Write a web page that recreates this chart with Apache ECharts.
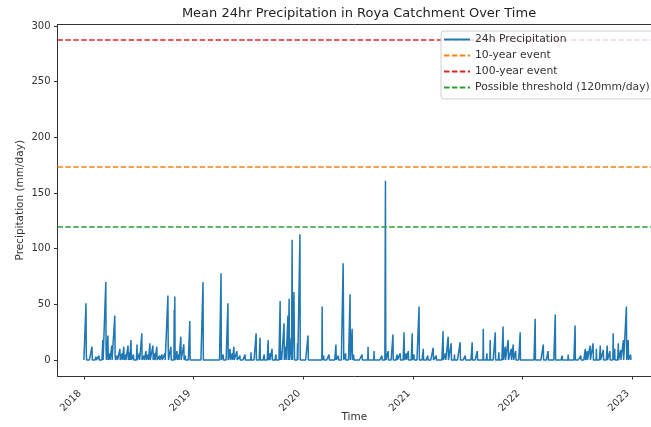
<!DOCTYPE html>
<html>
<head>
<meta charset="utf-8">
<script src="https://cdn.jsdelivr.net/npm/echarts@6/dist/echarts.min.js"></script>
<style>html,body{margin:0;padding:0;background:#fff}#c{width:651px;height:427px}</style>
</head>
<body>
<div id="c"></div>
<script>
// ---- data ----
const titleText = 'Mean 24hr Precipitation in Roya Catchment Over Time';
const startDate = '2018-01-01';
const endDate = '2022-12-31';
// days with notable precipitation (mm/day); other days ~0
const eventDates = [
 '2018-01-08','2018-01-09','2018-01-28','2018-02-10','2018-02-20','2018-03-05','2018-03-15','2018-03-16','2018-03-22','2018-03-28',
 '2018-04-04','2018-04-14','2018-04-15','2018-04-22','2018-05-01','2018-05-08','2018-05-14','2018-05-20','2018-05-28','2018-06-02',
 '2018-06-07','2018-06-15','2018-06-27','2018-07-05','2018-07-13','2018-07-20','2018-07-27','2018-08-03','2018-08-09','2018-08-19',
 '2018-08-25','2018-09-01','2018-09-10','2018-09-18','2018-09-28','2018-10-08','2018-10-09','2018-10-18','2018-10-29','2018-10-31',
 '2018-11-07','2018-11-13','2018-11-20','2018-11-30','2018-12-05','2018-12-20',
 '2019-02-02','2019-04-03','2019-04-10','2019-04-26','2019-05-03','2019-05-10','2019-05-16','2019-05-26','2019-06-05','2019-06-22',
 '2019-07-12','2019-07-29','2019-08-11','2019-08-25','2019-09-07','2019-09-12','2019-09-20','2019-10-03','2019-10-17','2019-10-21',
 '2019-10-30','2019-11-05','2019-11-12','2019-11-16','2019-11-23','2019-11-26','2019-12-02','2019-12-03','2019-12-14','2019-12-22',
 '2020-01-18','2020-03-05','2020-03-10','2020-03-28','2020-04-20','2020-04-28','2020-05-14','2020-05-15','2020-05-22','2020-06-06',
 '2020-06-13','2020-06-18','2020-07-16','2020-08-05','2020-08-25','2020-09-20','2020-10-02','2020-10-03','2020-10-11','2020-10-27',
 '2020-11-10','2020-11-20','2020-12-03','2020-12-10','2020-12-17','2020-12-30',
 '2021-01-05','2021-01-22','2021-02-05','2021-02-20','2021-03-10','2021-03-20','2021-04-12','2021-04-20','2021-04-29','2021-05-09',
 '2021-05-20','2021-06-08','2021-06-25','2021-07-18','2021-08-04','2021-08-24','2021-09-05','2021-09-16','2021-10-03','2021-10-15',
 '2021-10-29','2021-11-05','2021-11-15','2021-11-25','2021-12-02','2021-12-10','2021-12-25',
 '2022-02-13','2022-03-12','2022-03-28','2022-04-21','2022-05-14','2022-06-03','2022-06-26','2022-07-15','2022-07-30','2022-08-05',
 '2022-08-15','2022-08-25','2022-09-05','2022-09-18','2022-09-28','2022-10-11','2022-10-20','2022-10-31','2022-11-05','2022-11-17',
 '2022-11-25','2022-12-04','2022-12-14','2022-12-20','2022-12-28'
];
const eventValues = [
 51,6,12,3,4,18,70,8,22,6,
 13,40,5,4,10,6,12,5,13,7,
 18,5,14,6,24,4,8,5,15,13,
 6,12,4,5,6,58,12,12,45,57,
 8,5,21,14,4,35,
 70,78,5,51,10,6,12,8,4,5,
 7,24,20,5,18,6,10,5,53,8,
 33,12,40,55,20,108,61,30,15,113,
 22,48,4,5,14,4,87,48,6,59,
 28,5,5,12,8,4,161,10,8,23,
 5,6,25,6,8,24,
 5,48,10,4,11,4,26,6,21,15,
 5,16,4,16,8,28,6,18,25,7,
 30,12,18,10,14,8,25,
 37,14,8,41,4,5,31,4,10,8,
 13,15,10,13,9,13,8,24,10,15,
 9,18,48,18,5
];
const thresholdNames = ['10-year event', '100-year event', 'Possible threshold (120mm/day)'];
const thresholdValues = [174, 288, 120];
const thresholdColors = ['#ff7f0e', '#d62728', '#2ca02c'];
const yTicks = [0, 50, 100, 150, 200, 250, 300];
const xTickYears = [2018, 2019, 2020, 2021, 2022, 2023];
// visible x range (the figure is cropped on the right)
const xRangeStart = '2017-10-05';
const xRangeEnd = '2023-03-06';

// ---- build daily series ----
const DAY = 86400000;
const ev = {};
eventDates.forEach((d, i) => { ev[d] = eventValues[i]; });
const seriesData = [];
for (let t = Date.parse(startDate + 'T00:00:00Z'); t <= Date.parse(endDate + 'T00:00:00Z'); t += DAY) {
  const key = new Date(t).toISOString().slice(0, 10);
  seriesData.push([t, ev[key] !== undefined ? ev[key] : 0]);
}
const xTicks = xTickYears.map(y => Date.UTC(y, 0, 1));
const xMin = Date.parse(xRangeStart + 'T00:00:00Z');
const xMax = Date.parse(xRangeEnd + 'T00:00:00Z');

const chart = echarts.init(document.getElementById('c'), null, {renderer: 'canvas'});
const FONT = 'DejaVu Sans';
const TXT = '#333';
const dash = [5.5, 2.4];
const series = [{
  name: '24h Precipitation', type: 'line', data: seriesData, showSymbol: false, symbol: 'none',
  lineStyle: {color: '#1f77b4', width: 1.5}, itemStyle: {color: '#1f77b4'},
  emphasis: {disabled: true}, z: 3
}];
thresholdNames.forEach((n, i) => {
  series.push({
    name: n, type: 'line', data: [], symbol: 'none',
    lineStyle: {color: thresholdColors[i], width: 1.5, type: dash}, itemStyle: {color: thresholdColors[i]},
    markLine: {silent: true, symbol: 'none', label: {show: false},
      lineStyle: {color: thresholdColors[i], width: 1.5, type: dash},
      emphasis: {disabled: true}, data: [{yAxis: thresholdValues[i]}]},
    z: 2
  });
});

chart.setOption({
  animation: false,
  backgroundColor: '#fff',
  textStyle: {fontFamily: FONT},
  grid: {left: 57.5, top: 24.5, right: 0, height: 351.5, show: false, containLabel: false, outerBoundsMode: 'none'},
  graphic: [{type: 'text', x: 359, y: 14, style: {text: titleText, fontFamily: FONT, fontSize: 13, fill: '#222', textAlign: 'center', textVerticalAlign: 'middle'}}],
  legend: {
    orient: 'vertical', left: 441, top: 31, itemWidth: 26, itemHeight: 10, itemGap: 5,
    padding: [3, 6, 6, 2], backgroundColor: 'rgba(255,255,255,0.8)', borderColor: '#d0d0d0', borderWidth: 1, borderRadius: 3,
    itemStyle: {opacity: 0, borderWidth: 0},
    textStyle: {fontFamily: FONT, fontSize: 10.8, color: TXT},
    data: ['24h Precipitation'].concat(thresholdNames), z: 10
  },
  xAxis: [{
    type: 'value', min: xMin, max: xMax, position: 'bottom',
    name: 'Time', nameLocation: 'middle', nameGap: 36, nameMoveOverlap: false,
    nameTextStyle: {fontFamily: FONT, fontSize: 10.5, color: TXT},
    axisLine: {show: true, onZero: false, lineStyle: {color: '#333', width: 1}},
    axisTick: {show: true, length: 3.5, lineStyle: {color: '#333'}, customValues: xTicks},
    axisLabel: {customValues: xTicks, rotate: 45, margin: 12, fontFamily: FONT, fontSize: 10, color: TXT,
      formatter: v => '{a|' + new Date(v).getUTCFullYear() + '}',
      rich: {a: {padding: [0, 5.5, 0, 0], fontFamily: FONT, fontSize: 10, color: TXT}}},
    splitLine: {show: false}
  }, {
    type: 'value', min: xMin, max: xMax, position: 'top',
    axisLine: {show: true, onZero: false, lineStyle: {color: '#333', width: 1}},
    axisTick: {show: false}, axisLabel: {show: false}, splitLine: {show: false}
  }],
  yAxis: {
    type: 'value', min: -14.35, max: 301.4,
    name: 'Precipitation (mm/day)', nameLocation: 'middle', nameGap: 32, nameRotate: 90, nameMoveOverlap: false,
    nameTextStyle: {fontFamily: FONT, fontSize: 10.5, color: TXT},
    axisLine: {show: true, onZero: false, lineStyle: {color: '#333', width: 1}},
    axisTick: {show: true, length: 3.5, lineStyle: {color: '#333'}, customValues: yTicks},
    axisLabel: {customValues: yTicks, margin: 7, fontFamily: FONT, fontSize: 10, color: TXT},
    splitLine: {show: false}
  },
  series: series
});
</script>
</body>
</html>
